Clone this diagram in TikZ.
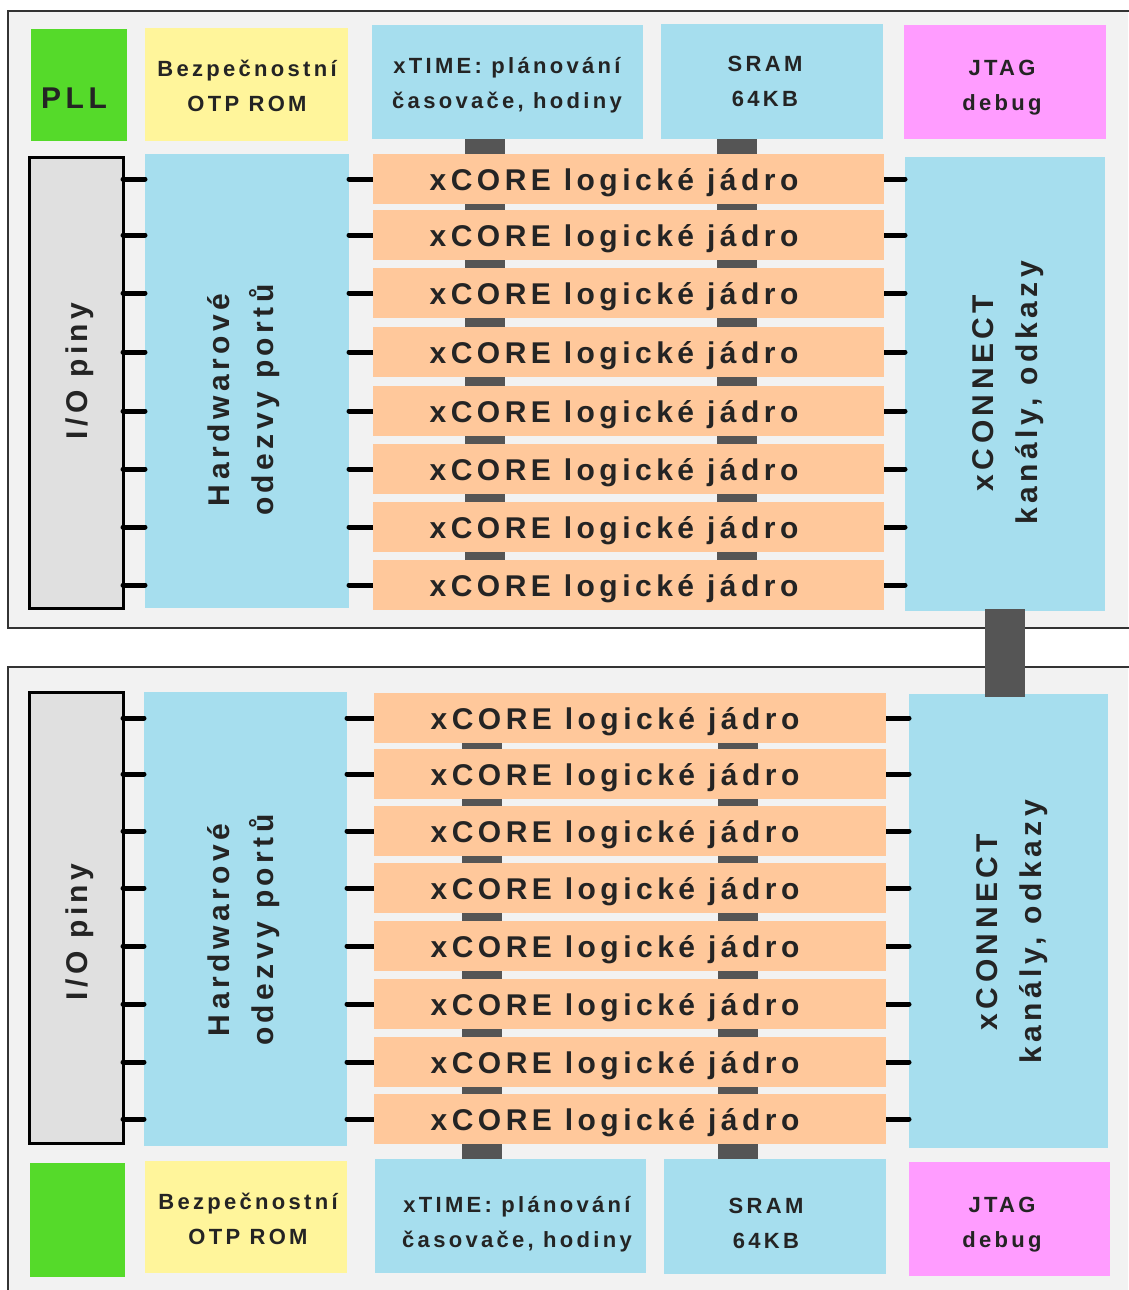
\documentclass[tikz,border=0pt]{standalone}
\usepackage{fontspec}
\newfontfamily\lsf[LetterSpace=15]{Liberation Sans}
\usetikzlibrary{calc}
\definecolor{panelC}{HTML}{F2F2F2}
\definecolor{frameC}{HTML}{333333}
\definecolor{pllC}{HTML}{55DA2A}
\definecolor{otpC}{HTML}{FFF59B}
\definecolor{blueC}{HTML}{A6DEEE}
\definecolor{jtagC}{HTML}{FF9CFF}
\definecolor{coreC}{HTML}{FFC89B}
\definecolor{ioC}{HTML}{E0E0E0}
\definecolor{busC}{HTML}{555555}
\definecolor{txtC}{HTML}{242424}
\newcommand{\twol}[2]{\begin{tabular}[t]{@{}c@{}}#1\\#2\end{tabular}}
\begin{document}
\begin{tikzpicture}[x=1pt,y=-1pt,
  blk/.style={anchor=north west, inner sep=0pt, outer sep=0pt},
  core/.style={blk, fill=coreC, minimum width=511pt, minimum height=50pt},
  iobox/.style={blk, fill=ioC, draw=black, line width=3pt, minimum width=94pt, minimum height=451pt},
  bigblue/.style={blk, fill=blueC},
  frame/.style={draw=frameC, line width=1.4pt},
  bus/.style={draw=busC, line width=40pt},
  stub/.style={draw=black, line width=5pt, line cap=round},
  txtS/.style={font=\lsf\bfseries\fontsize{22}{35}\selectfont, text=txtC, inner sep=0pt, anchor=base},
  txtL/.style={font=\lsf\bfseries\fontsize{30}{44}\selectfont, text=txtC, inner sep=0pt, anchor=base}
]
\useasboundingbox (0,0) rectangle (1128,1290);
% panels
\fill[panelC] (8,11) rectangle (1128,628);
\draw[frame] (1130,11) -- (8,11) -- (8,628) -- (1130,628);
\fill[panelC] (8,667) rectangle (1128,1292);
\draw[frame] (1130,667) -- (8,667) -- (8,1292);

% ---------- top chip ----------
\node[blk, fill=pllC, minimum width=96pt, minimum height=112pt] (pll1) at (31,29) {};
\node[blk, fill=otpC, minimum width=203pt, minimum height=113pt] (otp1) at (145,28) {};
\node[blk, fill=blueC, minimum width=271pt, minimum height=114pt] (xt1) at (372,25) {};
\node[blk, fill=blueC, minimum width=222pt, minimum height=115pt] (sram1) at (661,24) {};
\node[blk, fill=jtagC, minimum width=202pt, minimum height=114pt] (jtag1) at (904,25) {};

\foreach \i/\y in {1/154,2/210,3/268,4/327,5/386,6/444,7/502,8/560}{
  \coordinate (tp\i) at (373,\y);
  \coordinate (tm\i) at (373,\y+25);
}

\coordinate (busA1) at ($(xt1.south)+(-22.5,0)$);
\coordinate (busB1) at ($(sram1.south)+(-35,0)$);
\coordinate (busA2) at (busA1 |- tp8);
\coordinate (busB2) at (busB1 |- tp8);
\draw[bus] (busA1) -- (busA2);
\draw[bus] (busB1) -- (busB2);

\node[iobox] (io1) at (29,157) {};
\node[bigblue, minimum width=204pt, minimum height=454pt] (hw1) at (145,154) {};
\node[bigblue, minimum width=200pt, minimum height=454pt] (xc1) at (905,157) {};

\foreach \i/\y in {1/154,2/210,3/268,4/327,5/386,6/444,7/502,8/560}{
  \draw[stub] (io1.east |- tm\i) -- (hw1.west |- tm\i);
  \draw[stub] (hw1.east |- tm\i) -- (tm\i);
  \draw[stub] ($(tm\i)+(511,0)$) -- (xc1.west |- tm\i);
  \node[core] (t\i) at (tp\i) {};
  \node[txtL] (tt\i) at (614,\y+36) {xCORE logické jádro};
}

\node[txtL] (pll1t) at (74,108) {PLL};
\node[txtS] (otp1t) at (247,77) {\twol{Bezpečnostní}{OTP ROM}};
\node[txtS] (xt1t) at (507,74) {\twol{xTIME: plánování}{časovače, hodiny}};
\node[txtS] (sram1t) at (765,71) {\twol{SRAM}{64KB}};
\node[txtS] (jtag1t) at (1002,76) {\twol{JTAG}{debug}};
\node[txtL, rotate=90] (io1t) at (87,371) {I/O piny};
\node[txtL, rotate=90] (hw1t) at (229,400) {\twol{Hardwarové}{odezvy portů}};
\node[txtL, rotate=90] (xc1t) at (993,393) {\twol{xCONNECT}{kanály, odkazy}};

% ---------- bottom chip ----------
\node[blk, fill=pllC, minimum width=95pt, minimum height=114pt] (pll2) at (30,1163) {};
\node[blk, fill=otpC, minimum width=202pt, minimum height=112pt] (otp2) at (145,1161) {};
\node[blk, fill=blueC, minimum width=271pt, minimum height=114pt] (xt2) at (375,1159) {};
\node[blk, fill=blueC, minimum width=222pt, minimum height=115pt] (sram2) at (664,1159) {};
\node[blk, fill=jtagC, minimum width=201pt, minimum height=114pt] (jtag2) at (909,1162) {};

\foreach \i/\y in {1/693,2/749,3/806,4/863,5/921,6/979,7/1037,8/1094}{
  \coordinate (bp\i) at (374,\y);
  \coordinate (bm\i) at (374,\y+25);
}

\coordinate (busC1) at ($(xt2.north)+(-28.5,0)$);
\coordinate (busD1) at ($(sram2.north)+(-37,0)$);
\coordinate (busC2) at ($(busC1 |- bp1)+(0,50)$);
\coordinate (busD2) at ($(busD1 |- bp1)+(0,50)$);
\draw[bus] (busC1) -- (busC2);
\draw[bus] (busD1) -- (busD2);

\node[iobox] (io2) at (29,692) {};
\node[bigblue, minimum width=203pt, minimum height=454pt] (hw2) at (144,692) {};
\node[bigblue, minimum width=199pt, minimum height=454pt] (xc2) at (909,694) {};

\foreach \i/\y in {1/693,2/749,3/806,4/863,5/921,6/979,7/1037,8/1094}{
  \draw[stub] (io2.east |- bm\i) -- (hw2.west |- bm\i);
  \draw[stub] (hw2.east |- bm\i) -- (bm\i);
  \draw[stub] ($(bm\i)+(512,0)$) -- (xc2.west |- bm\i);
  \node[core, minimum width=512pt] (b\i) at (bp\i) {};
  \node[txtL] (bt\i) at (615,\y+36) {xCORE logické jádro};
}

\node[txtS] (otp2t) at (248,1209) {\twol{Bezpečnostní}{OTP ROM}};
\node[txtS] (xt2t) at (517,1212) {\twol{xTIME: plánování}{časovače, hodiny}};
\node[txtS] (sram2t) at (766,1213) {\twol{SRAM}{64KB}};
\node[txtS] (jtag2t) at (1002,1212) {\twol{JTAG}{debug}};
\node[txtL, rotate=90] (io2t) at (87,932) {I/O piny};
\node[txtL, rotate=90] (hw2t) at (229,930) {\twol{Hardwarové}{odezvy portů}};
\node[txtL, rotate=90] (xc2t) at (997,932) {\twol{xCONNECT}{kanály, odkazy}};

% link between the two chips
\draw[bus, shorten <=-2pt, shorten >=-3pt] (xc1.south) -- (xc1.south |- xc2.north);
\end{tikzpicture}
\end{document}
